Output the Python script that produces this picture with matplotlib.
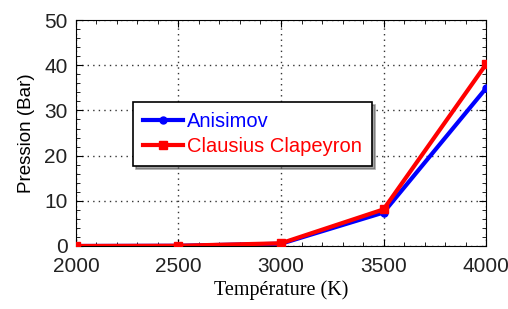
import numpy as np
import matplotlib.pyplot as plt
from matplotlib.ticker import MultipleLocator

temperature = [2000, 2500, 3000, 3500, 4000]
anisimov = [0.0, 0.05, 0.5, 7.4, 34.9]
clapeyron = [0.0, 0.05, 0.6, 8.1, 40.2]

fig = plt.figure(figsize=(5.08, 3.09), dpi=100)
ax = fig.add_axes([0.1496, 0.2039, 0.8071, 0.7311])

ax.plot(temperature, anisimov, color='#0000ff', linewidth=3, marker='o', markersize=5,
        label='Anisimov', zorder=3)
ax.plot(temperature, clapeyron, color='#ff0000', linewidth=3, marker='s', markersize=6,
        label='Clausius Clapeyron', zorder=4)

ax.set_xlim(2000, 4000)
ax.set_ylim(0, 50)
ax.xaxis.set_major_locator(MultipleLocator(500))
ax.xaxis.set_minor_locator(MultipleLocator(100))
ax.yaxis.set_major_locator(MultipleLocator(10))
ax.yaxis.set_minor_locator(MultipleLocator(2))
ax.tick_params(which='both', direction='in', top=True, right=True)
ax.tick_params(which='major', length=5, labelsize=15, pad=6)
ax.tick_params(axis='x', which='major', pad=8)
ax.tick_params(which='minor', length=3)
for lab in ax.get_xticklabels() + ax.get_yticklabels():
    lab.set_family('Liberation Sans')
    lab.set_color('#222222')

ax.grid(True, which='major', linestyle=(0, (1, 3)), color='#333333', linewidth=1)

ax.set_xlabel('Température (K)', family='Liberation Serif', fontsize=14.5, labelpad=3)
ax.set_ylabel('Pression (Bar)', family='Liberation Sans', fontsize=13.5, labelpad=7)

leg = ax.legend(loc='upper left', bbox_to_anchor=(0.139, 0.637), borderaxespad=0,
                fancybox=False, shadow=True, framealpha=1, edgecolor='black',
                prop={'family': 'Liberation Sans', 'size': 14.5}, handlelength=2.0,
                handletextpad=0.2, borderpad=0.5, labelspacing=0.3)
leg.get_frame().set_linewidth(1.2)
for txt, col in zip(leg.get_texts(), ['#0000ff', '#ff0000']):
    txt.set_color(col)

fig.savefig('out.png', dpi=100)
